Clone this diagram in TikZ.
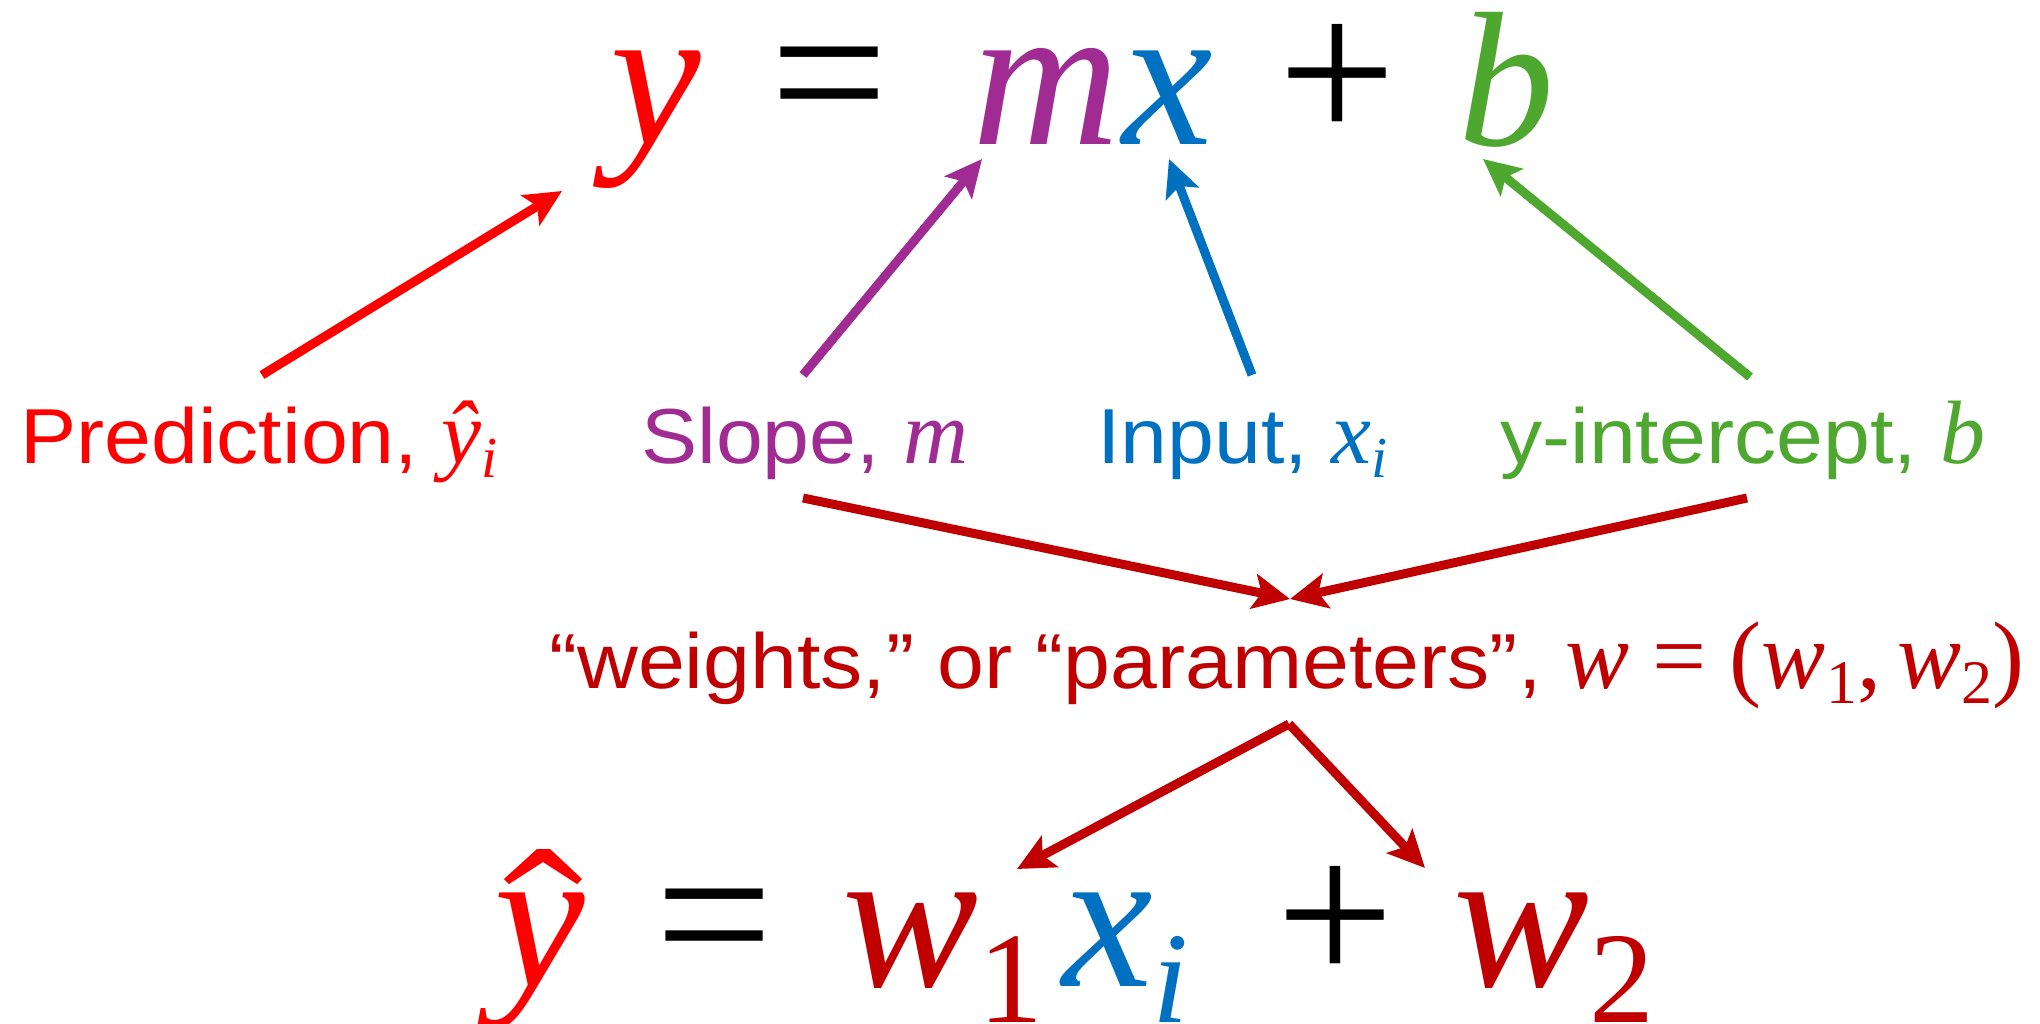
\documentclass[tikz,border=0pt]{standalone}
\usepackage{fontspec}
\setmainfont{Liberation Sans}[FakeStretch=1.08]
\newfontfamily\eqfont{Liberation Serif}
\usetikzlibrary{arrows.meta}
\definecolor{cRed}{HTML}{FF0000}
\definecolor{cPurple}{HTML}{A02B93}
\definecolor{cBlue}{HTML}{0070C0}
\definecolor{cGreen}{HTML}{4EA72E}
\definecolor{cDark}{HTML}{C00000}
\newcommand{\lm}[1]{{\fontsize{90}{96}\selectfont\eqfont\itshape #1}}
\newcommand{\lmr}[1]{{\fontsize{96}{100}\selectfont\eqfont #1}}
\newcommand{\sbx}[3]{\raisebox{-#2pt}{\fontsize{#1}{#1}\selectfont\eqfont #3}}
\begin{document}
\begin{tikzpicture}[x=1pt,y=-1pt,
  eqv/.style={inner sep=0pt, anchor=base west, font=\fontsize{204}{230}\selectfont\eqfont\itshape},
  eqop/.style={inner sep=0pt, anchor=base, font=\fontsize{209}{230}\selectfont\eqfont},
  lbl/.style={inner sep=0pt, anchor=base west, font=\fontsize{78}{90}\selectfont},
  arr/.style={line width=9pt, -{Stealth[length=37pt,width=35pt,inset=8pt]}}]
\useasboundingbox (0,0) rectangle (2040,1024);

% top equation
\node[eqv, text=cRed]    (ty) at (610,145) {y};
\node[eqop]              (teq) at (829.5,143) {=};
\node[eqv, text=cPurple] (tm) at (972,145) {m};
\node[eqv, text=cBlue]   (tx) at (1122,145) {x};
\node[eqop]              (tplus) at (1337.5,143) {+};
\node[eqv, text=cGreen, font=\fontsize{192}{220}\selectfont\eqfont\itshape] (tb) at (1458,146) {b};

% labels
\node[lbl, text=cRed]    (pred)  at (20,463)   {Prediction, \lm{ŷ}\sbx{58}{14}{\itshape i}};
\node[lbl, text=cPurple] (slope) at (641,463)  {Slope, \lm{m}};
\node[lbl, text=cBlue]   (input) at (1097,463) {Input, \lm{x}\sbx{58}{14}{\itshape i}};
\node[lbl, text=cGreen]  (yint)  at (1500,463) {y-intercept, \lm{b}};

\node[lbl, text=cDark] (wts) at (549,688)
  {“weights,” or “parameters”, {\fontsize{96}{100}\selectfont\eqfont\itshape w} \lmr{=} \lmr{(}{\fontsize{96}{100}\selectfont\eqfont\itshape w}\sbx{62}{15}{1}\lmr{,\,}{\fontsize{96}{100}\selectfont\eqfont\itshape w}\sbx{62}{15}{2}\lmr{)}};

% bottom equation
\node[eqv, text=cRed]  (by) at (494,986) {y};
\fill[cRed] (504,879) -- (537,849) -- (550,849) -- (582,879) -- (577,884) -- (543,862) -- (509,884) -- cycle;
\node[eqop]            (beq) at (714.5,984) {=};
\node[eqv, text=cDark] (bw1) at (842,986) {w\sbx{130}{36}{\upshape 1}};
\node[eqv, text=cBlue] (bx) at (1062,986) {x\sbx{130}{36}{\itshape i}};
\node[eqop]            (bplus) at (1335.5,984) {+};
\node[eqv, text=cDark] (bw2) at (1453,986) {w\sbx{130}{36}{\upshape 2}};

% connector end points
\coordinate (rTail) at (262,375);   \coordinate (rTip) at (562,191);
\coordinate (pTail) at (803,375);   \coordinate (pTip) at (982,159);
\coordinate (iTail) at (1252,375);  \coordinate (iTip) at (1169,159);
\coordinate (gTail) at (1750,377);  \coordinate (gTip) at (1483,159);
\coordinate (sTail) at (803,498);   \coordinate (yTail) at (1747,498);
\coordinate (wTip) at (1290,599);
\coordinate (wSrc) at (1289,724);
\coordinate (w1Tip) at (1017,869);  \coordinate (w2Tip) at (1425,868);

\draw[arr, cRed]    (rTail) -- (rTip);
\draw[arr, cPurple] (pTail) -- (pTip);
\draw[arr, cBlue]   (iTail) -- (iTip);
\draw[arr, cGreen]  (gTail) -- (gTip);
\draw[arr, cDark]   (sTail) -- (wTip);
\draw[arr, cDark]   (yTail) -- (wTip);
\draw[arr, cDark]   (wSrc) -- (w1Tip);
\draw[arr, cDark]   (wSrc) -- (w2Tip);
\end{tikzpicture}
\end{document}
